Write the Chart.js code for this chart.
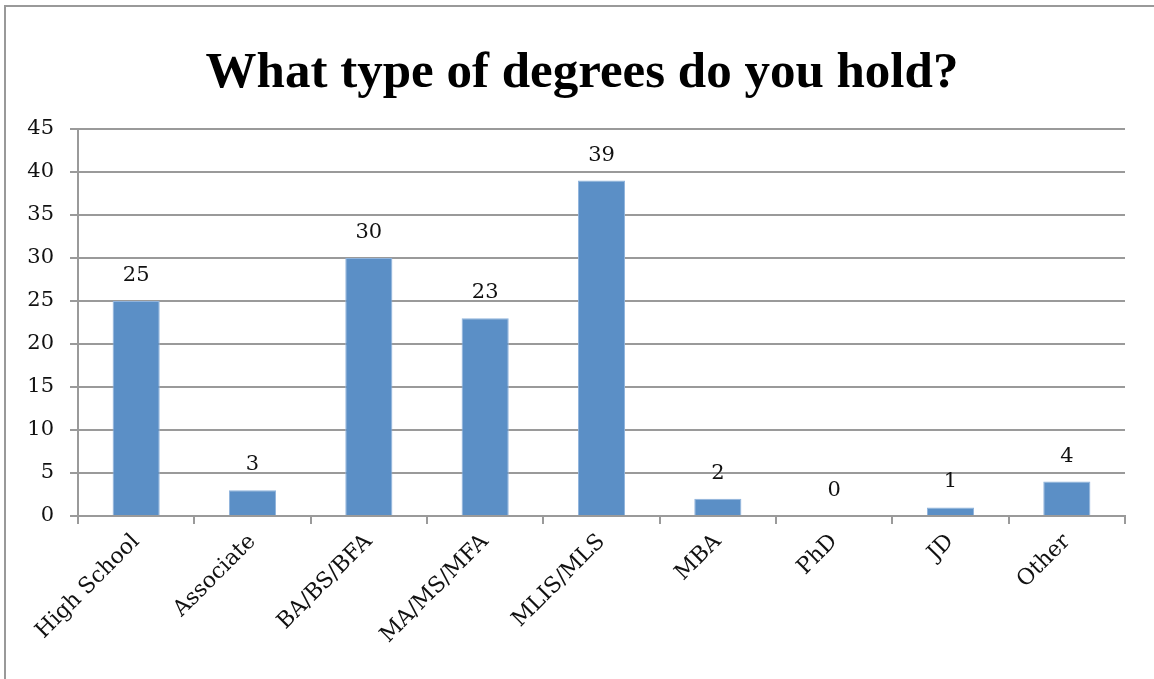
<!DOCTYPE html>
<html>
<head>
<meta charset="utf-8">
<script src="https://cdn.jsdelivr.net/npm/chart.js@4"></script>
<style>
  html, body { margin: 0; padding: 0; background: #fff; }
  #wrap { position: relative; width: 1154px; height: 679px; }
  #frame { position: absolute; left: 4px; top: 5px; right: -10px; bottom: -10px; border-left: 2px solid #999; border-top: 2px solid #999; }
  canvas { position: absolute; left: 0; top: 0; }
</style>
</head>
<body>
<div id="wrap">
  <div id="frame"></div>
  <canvas id="degreeChart" width="1154" height="679"></canvas>
</div>
<script>
const titulo = 'What type of degrees do you hold?';
const categorias = ['High School', 'Associate', 'BA/BS/BFA', 'MA/MS/MFA', 'MLIS/MLS', 'MBA', 'PhD', 'JD', 'Other'];
const respuestas = [25, 3, 30, 23, 39, 2, 0, 1, 4];
const yTicks = [0, 5, 10, 15, 20, 25, 30, 35, 40, 45];

const gris = '#9a9a9a';
const fuente = "'DejaVu Serif', serif";

// titulo centrado sobre el marco (no sobre el area del grafico)
const tituloPlugin = {
  id: 'tituloPlugin',
  afterDraw(chart) {
    const ctx = chart.ctx;
    ctx.save();
    ctx.font = "bold 51px 'Liberation Serif', serif";
    ctx.fillStyle = '#000';
    ctx.textAlign = 'center';
    ctx.textBaseline = 'alphabetic';
    ctx.fillText(titulo, 582, 87);
    ctx.restore();
  }
};

// numero encima de cada barra
const etiquetas = {
  id: 'etiquetas',
  afterDatasetsDraw(chart) {
    const ctx = chart.ctx;
    const meta = chart.getDatasetMeta(0);
    ctx.save();
    ctx.font = '21px ' + fuente;
    ctx.fillStyle = '#111';
    ctx.textAlign = 'center';
    ctx.textBaseline = 'alphabetic';
    meta.data.forEach((bar, i) => {
      ctx.fillText(String(respuestas[i]), bar.x, bar.y - 20);
    });
    ctx.restore();
  }
};

const ctx = document.getElementById('degreeChart').getContext('2d');
const chart = new Chart(ctx, {
  type: 'bar',
  data: {
    labels: categorias,
    datasets: [{
      data: respuestas,
      backgroundColor: '#5b8fc6',
      borderColor: '#8fb3dc',
      borderWidth: 1,
      categoryPercentage: 1,
      barPercentage: 0.405
    }]
  },
  options: {
    responsive: false,
    animation: false,
    layout: { padding: { left: 0, right: 29, top: 129, bottom: 0 } },
    plugins: {
      legend: { display: false },
      tooltip: { enabled: false },
      title: { display: false }
    },
    scales: {
      x: {
        grid: { display: true, offset: true, drawOnChartArea: false, color: gris, lineWidth: 2, tickLength: 8 },
        border: { color: gris, width: 2 },
        ticks: {
          color: '#111',
          font: { family: fuente, size: 22 },
          minRotation: 45,
          maxRotation: 45,
          padding: 5
        },
        afterFit(scale) { scale.height = 163; }
      },
      y: {
        min: 0,
        max: 45,
        afterBuildTicks(scale) { scale.ticks = yTicks.map(v => ({ value: v })); },
        grid: { color: gris, lineWidth: 2, tickLength: 8 },
        border: { color: gris, width: 2 },
        ticks: {
          color: '#111',
          font: { family: fuente, size: 21 },
          padding: 16
        },
        afterFit(scale) { scale.width = 78; }
      }
    }
  },
  plugins: [etiquetas, tituloPlugin]
});
</script>
</body>
</html>
